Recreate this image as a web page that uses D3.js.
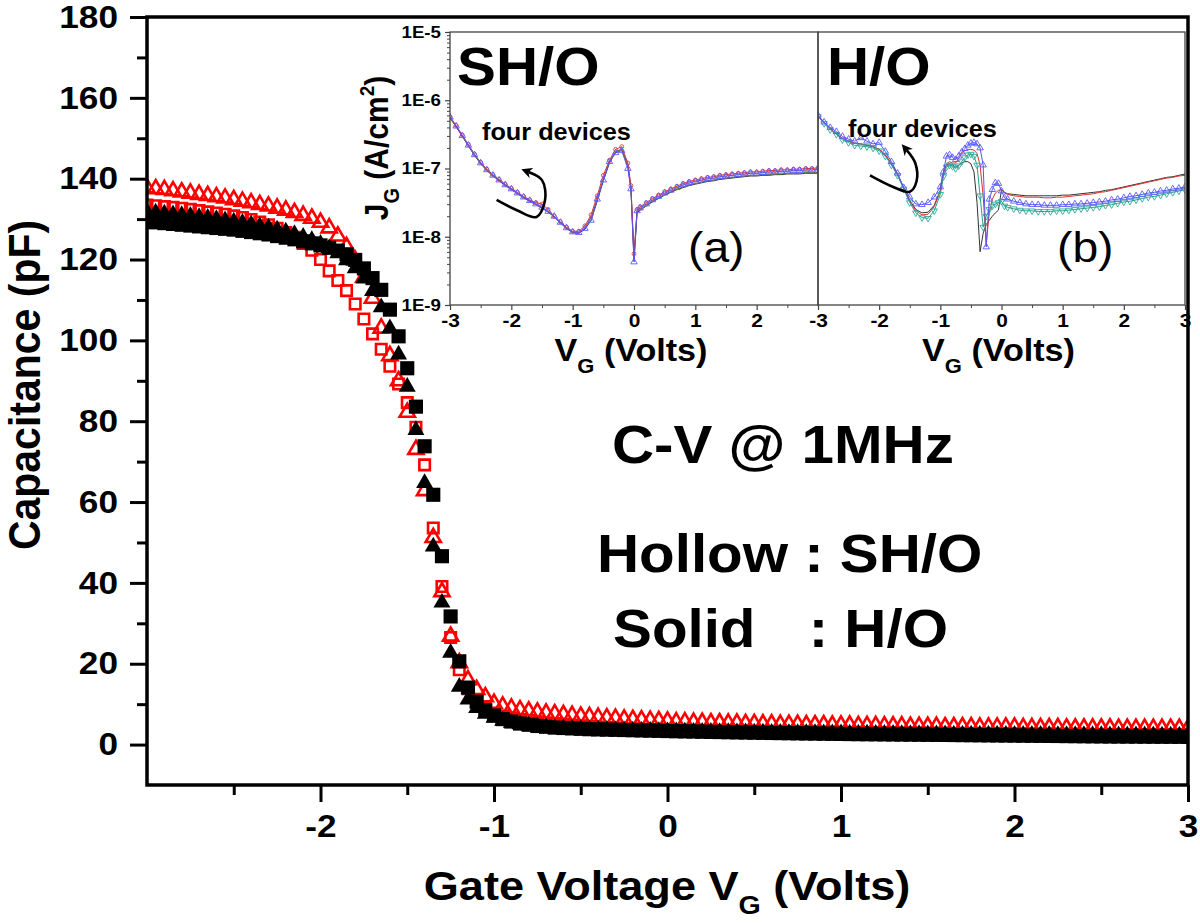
<!DOCTYPE html>
<html><head><meta charset="utf-8">
<script src="https://cdn.jsdelivr.net/npm/d3@7"></script>
<style>body{margin:0;background:#fff}svg{display:block}</style>
</head><body><svg id="c" width="1200" height="923"></svg>
<script>
// ---------------- DATA ----------------
const voltage = [-3.00,-2.95,-2.90,-2.85,-2.80,-2.75,-2.70,-2.65,-2.60,-2.55,
 -2.50,-2.45,-2.40,-2.35,-2.30,-2.25,-2.20,-2.15,-2.10,-2.05,
 -2.00,-1.95,-1.90,-1.85,-1.80,-1.75,-1.70,-1.65,-1.60,-1.55,
 -1.50,-1.45,-1.40,-1.35,-1.30,-1.25,-1.20,-1.15,-1.10,-1.05,
 -1.00,-0.95,-0.90,-0.85,-0.80,-0.75,-0.70,-0.65,-0.60,-0.55,
 -0.50,-0.45,-0.40,-0.35,-0.30,-0.25,-0.20,-0.15,-0.10,-0.05,
 0.00,0.05,0.10,0.15,0.20,0.25,0.30,0.35,0.40,0.45,
 0.50,0.55,0.60,0.65,0.70,0.75,0.80,0.85,0.90,0.95,
 1.00,1.05,1.10,1.15,1.20,1.25,1.30,1.35,1.40,1.45,
 1.50,1.55,1.60,1.65,1.70,1.75,1.80,1.85,1.90,1.95,
 2.00,2.05,2.10,2.15,2.20,2.25,2.30,2.35,2.40,2.45,
 2.50,2.55,2.60,2.65,2.70,2.75,2.80,2.85,2.90,2.95,
 3.00];

// SH/O (hollow, red) square markers, pF
const shoSquares = [133.5,133.3,133.1,132.9,132.7,132.4,132.1,131.8,131.5,131.2,
 130.8,130.4,129.9,129.3,128.6,127.7,126.7,125.5,124.0,122.3,
 120.0,117.2,114.8,112.3,109.0,105.3,101.6,97.8,93.6,89.2,
 84.6,78.5,69.2,53.6,39.1,26.5,18.5,13.8,10.8,8.9,
 7.6,6.7,6.1,5.6,5.3,5.0,4.8,4.6,4.5,4.4,
 4.3,4.2,4.1,4.0,3.95,3.9,3.85,3.8,3.75,3.7,
 3.65,3.6,3.56,3.52,3.48,3.44,3.4,3.37,3.34,3.31,
 3.28,3.25,3.22,3.19,3.16,3.13,3.1,3.08,3.06,3.04,
 3.02,3.0,2.98,2.96,2.94,2.92,2.9,2.88,2.86,2.84,
 2.82,2.8,2.78,2.76,2.74,2.72,2.7,2.68,2.66,2.64,
 2.62,2.6,2.58,2.57,2.56,2.55,2.54,2.53,2.52,2.51,
 2.5,2.49,2.48,2.47,2.46,2.45,2.44,2.43,2.42,2.41,
 2.4];

// SH/O (hollow, red) triangle markers, pF
const shoTriangles = [137.7,137.5,137.3,137.0,136.7,136.4,136.1,135.8,135.5,135.2,
 134.8,134.4,134.0,133.6,133.2,132.7,132.2,131.6,130.9,130.2,
 129.2,127.8,125.8,123.2,119.8,115.6,110.4,103.0,96.2,90.0,
 82.2,73.0,62.8,51.2,37.8,26.8,20.2,16.0,13.6,11.8,
 10.2,9.5,9.0,8.6,8.3,8.0,7.8,7.6,7.4,7.2,
 7.0,6.9,6.7,6.6,6.5,6.3,6.2,6.1,6.0,5.9,
 5.8,5.6,5.6,5.5,5.5,5.4,5.4,5.3,5.3,5.2,
 5.2,5.1,5.1,5.0,5.0,5.0,4.9,4.9,4.9,4.8,
 4.8,4.8,4.7,4.7,4.7,4.6,4.6,4.6,4.5,4.5,
 4.5,4.5,4.4,4.4,4.4,4.4,4.3,4.3,4.3,4.3,
 4.3,4.2,4.2,4.2,4.2,4.2,4.1,4.1,4.1,4.1,
 4.1,4.1,4.0,4.0,4.0,4.0,4.0,4.0,4.0,4.0,
 4.0];

// H/O (solid, black) triangle markers, pF
const hoTriangles = [131.8,131.6,131.4,131.2,131.0,130.8,130.5,130.3,130.0,129.7,
 129.4,129.1,128.7,128.3,127.9,127.4,126.9,126.3,125.6,124.8,
 123.9,122.8,121.5,119.8,117.8,115.3,112.2,108.2,103.0,96.5,
 88.5,77.8,64.7,49.0,35.1,22.7,14.3,11.1,9.0,7.6,
 6.6,5.9,5.4,5.0,4.7,4.5,4.3,4.1,4.0,3.9,
 3.8,3.7,3.65,3.6,3.55,3.5,3.46,3.42,3.38,3.34,
 3.3,3.26,3.22,3.19,3.16,3.13,3.1,3.07,3.04,3.01,
 2.98,2.95,2.92,2.9,2.88,2.86,2.84,2.82,2.8,2.78,
 2.76,2.74,2.72,2.7,2.68,2.66,2.64,2.62,2.6,2.58,
 2.56,2.54,2.52,2.5,2.49,2.48,2.47,2.46,2.45,2.44,
 2.43,2.42,2.41,2.4,2.39,2.38,2.37,2.36,2.35,2.34,
 2.33,2.32,2.31,2.3,2.29,2.28,2.27,2.26,2.25,2.24,
 2.23];

// H/O (solid, black) square markers, pF
const hoSquares = [129.4,129.2,129.0,128.8,128.6,128.4,128.2,128.0,127.8,127.6,
 127.4,127.1,126.8,126.5,126.2,125.8,125.4,125.0,124.5,124.0,
 123.5,122.9,122.2,121.3,119.9,117.8,115.4,112.5,107.6,101.0,
 93.1,83.6,73.8,61.8,46.6,31.7,20.6,14.1,10.6,8.5,
 7.2,6.3,5.7,5.2,4.9,4.6,4.4,4.2,4.1,4.0,
 3.9,3.8,3.75,3.7,3.65,3.6,3.55,3.5,3.45,3.4,
 3.35,3.3,3.26,3.22,3.18,3.14,3.1,3.06,3.02,2.98,
 2.94,2.9,2.87,2.84,2.81,2.78,2.75,2.72,2.69,2.66,
 2.63,2.6,2.58,2.56,2.54,2.52,2.5,2.48,2.46,2.44,
 2.42,2.4,2.38,2.36,2.34,2.32,2.3,2.28,2.26,2.24,
 2.22,2.2,2.18,2.16,2.14,2.12,2.1,2.08,2.06,2.04,
 2.02,2.0,1.99,1.98,1.97,1.96,1.95,1.94,1.93,1.92,
 1.91];

const capTicks = [0,20,40,60,80,100,120,140,160,180];
const capMinorTicks = [10,30,50,70,90,110,130,150,170];
const voltTicks = [-2,-1,0,1,2,3];
const voltMinorTicks = [-2.5,-1.5,-0.5,0.5,1.5,2.5];

// Inset (a) SH/O: gate voltage and log10(J_G [A/cm2]) for four devices
const insetVoltA = [-3.0,-2.9,-2.8,-2.7,-2.6,-2.5,-2.4,-2.3,-2.2,-2.1,
 -2.0,-1.9,-1.8,-1.7,-1.6,-1.5,-1.4,-1.3,-1.2,-1.1,
 -1.0,-0.9,-0.8,-0.7,-0.6,-0.5,-0.4,-0.3,-0.2,-0.1,
 -0.05,0.0,0.05,
 0.1,0.2,0.3,0.4,0.5,0.6,0.7,0.8,0.9,1.0,
 1.1,1.2,1.3,1.4,1.5,1.6,1.7,1.8,1.9,2.0,
 2.1,2.2,2.3,2.4,2.5,2.6,2.7,2.8,2.9,3.0];
const shoDevBlue = [-6.25,-6.38,-6.52,-6.66,-6.80,-6.92,-7.02,-7.10,-7.17,-7.24,
 -7.30,-7.36,-7.42,-7.47,-7.52,-7.57,-7.63,-7.70,-7.79,-7.87,
 -7.93,-7.94,-7.88,-7.76,-7.45,-7.17,-6.90,-6.77,-6.74,-7.00,
 -7.30,-8.37,-7.62,
 -7.58,-7.52,-7.46,-7.41,-7.36,-7.32,-7.28,-7.24,-7.21,-7.19,
 -7.17,-7.15,-7.14,-7.12,-7.11,-7.10,-7.09,-7.08,-7.07,-7.07,
 -7.06,-7.05,-7.05,-7.04,-7.04,-7.03,-7.03,-7.02,-7.02,-7.01];
const shoDevRed = [-6.24,-6.37,-6.51,-6.65,-6.79,-6.91,-7.01,-7.09,-7.16,-7.23,
 -7.29,-7.35,-7.41,-7.46,-7.50,-7.52,-7.60,-7.70,-7.78,-7.86,
 -7.92,-7.92,-7.84,-7.68,-7.40,-7.10,-6.88,-6.72,-6.68,-6.92,
 -7.25,-8.25,-7.60,
 -7.56,-7.50,-7.44,-7.39,-7.34,-7.30,-7.26,-7.22,-7.19,-7.17,
 -7.15,-7.13,-7.12,-7.10,-7.09,-7.08,-7.07,-7.06,-7.05,-7.05,
 -7.04,-7.03,-7.03,-7.02,-7.02,-7.01,-7.01,-7.00,-7.00,-6.99];
const shoDevBlack = [-6.26,-6.39,-6.53,-6.67,-6.81,-6.93,-7.03,-7.11,-7.18,-7.25,
 -7.31,-7.37,-7.43,-7.48,-7.53,-7.58,-7.64,-7.71,-7.80,-7.88,
 -7.94,-7.95,-7.89,-7.76,-7.48,-7.18,-6.92,-6.76,-6.72,-6.96,
 -7.30,-8.35,-7.65,
 -7.61,-7.55,-7.49,-7.44,-7.39,-7.35,-7.31,-7.28,-7.25,-7.23,
 -7.21,-7.19,-7.18,-7.16,-7.15,-7.14,-7.13,-7.12,-7.11,-7.11,
 -7.10,-7.10,-7.09,-7.09,-7.08,-7.08,-7.08,-7.07,-7.07,-7.07];
const shoDevGreen = [-6.25,-6.38,-6.52,-6.66,-6.80,-6.92,-7.02,-7.10,-7.17,-7.24,
 -7.30,-7.36,-7.42,-7.47,-7.52,-7.57,-7.63,-7.70,-7.79,-7.87,
 -7.93,-7.94,-7.87,-7.72,-7.45,-7.15,-6.90,-6.75,-6.72,-6.95,
 -7.28,-8.30,-7.63,
 -7.60,-7.54,-7.48,-7.43,-7.38,-7.34,-7.30,-7.27,-7.24,-7.22,
 -7.20,-7.18,-7.17,-7.15,-7.14,-7.13,-7.12,-7.11,-7.10,-7.10,
 -7.09,-7.09,-7.08,-7.08,-7.07,-7.07,-7.07,-7.06,-7.06,-7.06];

// Inset (b) H/O
const insetVoltB = [-3.0,-2.9,-2.8,-2.7,-2.6,-2.5,-2.4,-2.3,-2.2,-2.1,
 -2.0,-1.9,-1.8,-1.7,-1.6,-1.5,-1.4,-1.3,-1.2,-1.1,-1.0,
 -0.95,-0.90,-0.85,-0.80,-0.75,-0.70,-0.65,-0.60,-0.55,-0.50,
 -0.45,-0.40,-0.35,-0.30,-0.25,-0.20,-0.15,-0.10,-0.05,0.00,0.05,
 0.1,0.2,0.3,0.4,0.5,0.6,0.7,0.8,0.9,1.0,
 1.1,1.2,1.3,1.4,1.5,1.6,1.7,1.8,1.9,2.0,
 2.1,2.2,2.3,2.4,2.5,2.6,2.7,2.8,2.9,3.0];
const hoDevBlue = [-6.22,-6.32,-6.40,-6.46,-6.53,-6.57,-6.60,-6.55,-6.60,-6.64,
 -6.62,-6.75,-6.90,-7.07,-7.28,-7.42,-7.52,-7.53,-7.50,-7.42,-7.27,
 -7.05,-6.82,-6.80,-6.84,-6.87,-6.82,-6.76,-6.71,-6.66,-6.63,
 -6.62,-6.64,-6.70,-6.95,-8.15,-7.45,-7.31,-7.21,-7.22,-7.33,-7.43,
 -7.45,-7.48,-7.50,-7.52,-7.53,-7.53,-7.54,-7.54,-7.54,-7.53,
 -7.53,-7.52,-7.52,-7.51,-7.50,-7.49,-7.48,-7.46,-7.45,-7.43,
 -7.41,-7.40,-7.38,-7.36,-7.35,-7.33,-7.32,-7.30,-7.29,-7.27];
const hoDevTeal = [-6.24,-6.34,-6.43,-6.50,-6.58,-6.62,-6.66,-6.67,-6.68,-6.70,
 -6.74,-6.82,-6.95,-7.10,-7.30,-7.50,-7.65,-7.72,-7.73,-7.62,-7.38,
 -7.12,-6.98,-6.95,-6.97,-7.00,-6.96,-6.90,-6.84,-6.80,-6.79,
 -6.82,-6.95,-7.40,-7.86,-7.70,-7.60,-7.55,-7.52,-7.50,-7.48,-7.55,
 -7.57,-7.59,-7.61,-7.62,-7.62,-7.63,-7.63,-7.63,-7.62,-7.62,
 -7.61,-7.60,-7.59,-7.58,-7.57,-7.56,-7.54,-7.53,-7.51,-7.49,
 -7.48,-7.46,-7.44,-7.42,-7.41,-7.39,-7.37,-7.35,-7.33,-7.31];
const hoDevRed = [-6.23,-6.33,-6.42,-6.49,-6.56,-6.60,-6.63,-6.64,-6.66,-6.68,
 -6.72,-6.80,-6.93,-7.09,-7.28,-7.48,-7.62,-7.68,-7.67,-7.56,-7.33,
 -7.08,-6.93,-6.90,-6.92,-6.92,-6.85,-6.78,-6.74,-6.72,-6.72,
 -6.73,-6.78,-6.95,-7.40,-8.10,-7.65,-7.45,-7.36,-7.32,-7.31,-7.36,
 -7.38,-7.40,-7.41,-7.42,-7.42,-7.42,-7.43,-7.43,-7.42,-7.42,
 -7.41,-7.40,-7.39,-7.38,-7.37,-7.35,-7.34,-7.32,-7.30,-7.28,
 -7.26,-7.24,-7.22,-7.20,-7.18,-7.16,-7.14,-7.13,-7.11,-7.10];
const hoDevBlack = [-6.23,-6.33,-6.42,-6.49,-6.56,-6.60,-6.63,-6.64,-6.66,-6.68,
 -6.72,-6.80,-6.93,-7.09,-7.28,-7.47,-7.60,-7.65,-7.64,-7.54,-7.32,
 -7.06,-6.95,-6.93,-6.95,-6.98,-6.95,-6.92,-6.90,-6.90,-6.93,
 -7.05,-7.50,-8.22,-7.95,-7.82,-7.76,-7.70,-7.65,-7.61,-7.31,-7.35,
 -7.37,-7.38,-7.39,-7.40,-7.40,-7.40,-7.40,-7.40,-7.40,-7.39,
 -7.39,-7.38,-7.37,-7.36,-7.35,-7.34,-7.32,-7.31,-7.29,-7.27,
 -7.25,-7.23,-7.21,-7.19,-7.17,-7.15,-7.13,-7.12,-7.10,-7.08];

const insetJTicks = [1e-9,1e-8,1e-7,1e-6,1e-5];
const insetVTicksA = [-3,-2,-1,0,1,2];
const insetVTicksB = [-3,-2,-1,0,1,2,3];
const insetVMinor = [-2.5,-1.5,-0.5,0.5,1.5,2.5];
// curved "four devices" arrows, in inset data units [V, log10 J]
const arrowA = [[-2.24,-7.46],[-1.89,-7.62],[-1.59,-7.71],[-1.45,-7.46],[-1.50,-7.17],[-1.72,-7.05]];
const arrowB = [[-2.15,-7.10],[-1.77,-7.27],[-1.50,-7.34],[-1.39,-7.19],[-1.41,-6.92],[-1.55,-6.73]];

// ---------------- DRAW ----------------
const FONT = "'Liberation Sans', Arial, Helvetica, sans-serif";
const SX = 1.1;
const svg = d3.select("#c");
svg.append("rect").attr("width",1200).attr("height",923).attr("fill","#fff");

const x = d3.scaleLinear().domain([-3,3]).range([147,1188]);
const y = d3.scaleLinear().domain([-10,180]).range([785,17]);
const plainNum = d => String(d);

function stretchText(sel){
  sel.each(function(){
    const t = d3.select(this);
    const tx = +t.attr("x") || 0, ty = +t.attr("y") || 0;
    t.attr("x", null).attr("y", null).attr("transform", `translate(${tx},${ty}) scale(${SX},1)`);
  });
}
function styleAxis(g, size, width, color){
  g.select(".domain").remove();
  g.selectAll("line").attr("stroke", color||"#000").attr("stroke-width", width);
  g.selectAll("text").attr("font-size", size).attr("font-weight","bold").attr("font-family",FONT).attr("fill","#000");
  g.attr("font-family", FONT);
  stretchText(g.selectAll("text"));
}
function label(parent, px, py, size, opts){
  opts = opts || {};
  const g = parent.append("g").attr("transform", `translate(${px},${py}) scale(${SX},1)` + (opts.rotate ? " rotate(-90)" : ""));
  return g.append("text").attr("font-size", size).attr("font-weight", opts.weight || "bold")
    .attr("text-anchor", opts.anchor || "start").attr("font-family", FONT).attr("fill", "#000");
}

const defs = svg.append("defs");
defs.append("clipPath").attr("id","mainClip").append("rect")
  .attr("x",x.range()[0]).attr("y",y.range()[1]).attr("width",x.range()[1]-x.range()[0]).attr("height",y.range()[0]-y.range()[1]);

// main axes ticks
const gy = svg.append("g").attr("transform",`translate(${x.range()[0]},0)`)
  .call(d3.axisLeft(y).tickValues(capTicks).tickSize(17).tickSizeOuter(0).tickPadding(12).tickFormat(plainNum));
styleAxis(gy, 32, 3);
const gy2 = svg.append("g").attr("transform",`translate(${x.range()[0]},0)`)
  .call(d3.axisLeft(y).tickValues(capMinorTicks).tickSize(10).tickSizeOuter(0).tickFormat(""));
styleAxis(gy2, 32, 3);
const gx = svg.append("g").attr("transform",`translate(0,${y.range()[0]})`)
  .call(d3.axisBottom(x).tickValues(voltTicks).tickSize(17).tickSizeOuter(0).tickPadding(12).tickFormat(plainNum));
styleAxis(gx, 32, 3);
const gx2 = svg.append("g").attr("transform",`translate(0,${y.range()[0]})`)
  .call(d3.axisBottom(x).tickValues(voltMinorTicks).tickSize(10).tickSizeOuter(0).tickFormat(""));
styleAxis(gx2, 32, 3);

// main data
const plot = svg.append("g").attr("clip-path","url(#mainClip)");
const mainSeries = [
  {vals: shoSquares, type: d3.symbolSquare, size: 110, fill: "none", stroke: "#ff0000", sw: 2.6},
  {vals: shoTriangles, type: d3.symbolTriangle, size: 100, fill: "none", stroke: "#ff0000", sw: 2.6},
  {vals: hoTriangles, type: d3.symbolTriangle, size: 125, fill: "#000", stroke: "none", sw: 0},
  {vals: hoSquares, type: d3.symbolSquare, size: 200, fill: "#000", stroke: "none", sw: 0}
];
mainSeries.forEach(s => {
  const pts = voltage.map((v,i) => [v, s.vals[i]]).filter(d => d[1] !== undefined);
  plot.append("g").selectAll("path").data(pts).join("path")
    .attr("transform", d => `translate(${x(d[0])},${y(d[1])})`)
    .attr("d", d3.symbol(s.type, s.size))
    .attr("fill", s.fill).attr("stroke", s.stroke).attr("stroke-width", s.sw);
});

// ---------------- INSETS ----------------
const yj = d3.scaleLog().domain([1e-9,1e-5]).range([305,32]);
const xa = d3.scaleLinear().domain([-3,3]).range([450,818]);
const xb = d3.scaleLinear().domain([-3,3]).range([818,1185]);

[["clipA",xa],["clipB",xb]].forEach(([id,sc]) => {
  defs.append("clipPath").attr("id",id).append("rect")
    .attr("x",sc.range()[0]).attr("y",yj.range()[1]).attr("width",sc.range()[1]-sc.range()[0]).attr("height",yj.range()[0]-yj.range()[1]);
});
svg.append("rect").attr("x",xa.range()[0]).attr("y",yj.range()[1]).attr("width",xb.range()[1]-xa.range()[0]).attr("height",yj.range()[0]-yj.range()[1]).attr("fill","#fff");

defs.append("marker").attr("id","arrowHead").attr("viewBox","0 0 10 10").attr("refX",3).attr("refY",5)
  .attr("markerWidth",4.2).attr("markerHeight",4.2).attr("orient","auto")
  .append("path").attr("d","M0,0 L10,5 L0,10 L3,5 Z").attr("fill","#000");

function drawInset(sc, clipId, volts, devices, arrow){
  const g = svg.append("g").attr("clip-path",`url(#${clipId})`);
  const line = d3.line().x(d => sc(d[0])).y(d => yj(Math.pow(10,d[1])));
  devices.forEach(dv => {
    const pts = volts.map((v,i) => [v, dv.vals[i]]).filter(d => d[1] !== undefined);
    g.append("path").datum(pts).attr("d", line).attr("fill","none").attr("stroke", dv.line).attr("stroke-width", 1);
    if (dv.marker) {
      g.append("g").selectAll("path").data(pts).join("path")
        .attr("transform", d => `translate(${sc(d[0])},${yj(Math.pow(10,d[1]))})${dv.flip ? " rotate(180)" : ""}`)
        .attr("d", d3.symbol(dv.marker, dv.msize))
        .attr("fill","none").attr("stroke", dv.mcolor).attr("stroke-width", 0.9);
    }
  });
  const aline = d3.line().curve(d3.curveCatmullRom).x(d => sc(d[0])).y(d => yj(Math.pow(10,d[1])));
  svg.append("path").datum(arrow).attr("d", aline).attr("fill","none").attr("stroke","#000")
    .attr("stroke-width",2.6).attr("marker-end","url(#arrowHead)");
}
drawInset(xa, "clipA", insetVoltA, [
  {vals: shoDevBlack, line: "#333"},
  {vals: shoDevGreen, line: "#5a7a2a"},
  {vals: shoDevRed, line: "#e03030", marker: d3.symbolCircle, msize: 12, mcolor: "#e04040"},
  {vals: shoDevBlue, line: "#5555ee", marker: d3.symbolTriangle, msize: 18, mcolor: "#5a5aff"}
], arrowA);
drawInset(xb, "clipB", insetVoltB, [
  {vals: hoDevBlack, line: "#333"},
  {vals: hoDevRed, line: "#e03030"},
  {vals: hoDevTeal, line: "#2aa090", marker: d3.symbolTriangle, msize: 18, mcolor: "#30a898", flip: true},
  {vals: hoDevBlue, line: "#5555ee", marker: d3.symbolTriangle, msize: 18, mcolor: "#5a5aff"}
], arrowB);

// inset frames
[xa, xb].forEach(sc => {
  svg.append("rect").attr("x",sc.range()[0]).attr("y",yj.range()[1]).attr("width",sc.range()[1]-sc.range()[0]).attr("height",yj.range()[0]-yj.range()[1])
    .attr("fill","none").attr("stroke","#444").attr("stroke-width",1.3);
});

// inset axes
const minorJ = [];
[-9,-8,-7,-6].forEach(e => [2,3,4,5,6,7,8,9].forEach(m => minorJ.push(m*Math.pow(10,e))));
const gja = svg.append("g").attr("transform",`translate(${xa.range()[0]},0)`)
  .call(d3.axisLeft(yj).tickValues(insetJTicks).tickSize(5).tickPadding(4).tickFormat(d => "1E" + Math.round(Math.log10(d))));
styleAxis(gja, 17, 1.2, "#444");
const gja2 = svg.append("g").attr("transform",`translate(${xa.range()[0]},0)`)
  .call(d3.axisLeft(yj).tickValues(minorJ).tickSize(3).tickFormat(""));
styleAxis(gja2, 17, 1, "#444");
[[xa, insetVTicksA],[xb, insetVTicksB]].forEach(([sc, tv]) => {
  const g1 = svg.append("g").attr("transform",`translate(0,${yj.range()[0]})`)
    .call(d3.axisBottom(sc).tickValues(tv).tickSize(5).tickPadding(4).tickFormat(plainNum));
  styleAxis(g1, 19, 1.2, "#444");
  const g2 = svg.append("g").attr("transform",`translate(0,${yj.range()[0]})`)
    .call(d3.axisBottom(sc).tickValues(insetVMinor).tickSize(3).tickFormat(""));
  styleAxis(g2, 19, 1, "#444");
  const t = label(svg, (sc.range()[0]+sc.range()[1])/2 - 3, 361, 31, {anchor: "middle"});
  t.append("tspan").text("V");
  t.append("tspan").attr("font-size",20).attr("dy",12).text("G");
  t.append("tspan").attr("dy",-12).text(" (Volts)");
});

// inset y title
{
  const t = label(svg, 388, 148, 30, {anchor: "middle", rotate: true});
  t.append("tspan").text("J");
  t.append("tspan").attr("font-size",20).attr("dy",10).text("G");
  t.append("tspan").attr("dy",-10).text(" (A/cm");
  t.append("tspan").attr("font-size",19).attr("dy",-13).text("2");
  t.append("tspan").attr("dy",13).text(")");
}
label(svg, 457, 85, 53).text("SH/O");
label(svg, 827, 85, 53).text("H/O");
label(svg, 482, 140, 23).text("four devices");
label(svg, 848, 137, 23).text("four devices");
label(svg, 688, 262, 42, {weight: "normal"}).text("(a)");
label(svg, 1057, 262, 42, {weight: "normal"}).text("(b)");

// main annotations
label(svg, 612, 463, 53).text("C-V @ 1MHz");
label(svg, 597, 572, 53).text("Hollow : SH/O");
label(svg, 613, 647, 53).text("Solid");
label(svg, 948, 647, 53, {anchor: "end"}).text(": H/O");

// main titles
label(svg, 40, 385, 41, {anchor: "middle", rotate: true}).text("Capacitance (pF)");
{
  const t = label(svg, 667, 900, 41, {anchor: "middle"});
  t.append("tspan").text("Gate Voltage V");
  t.append("tspan").attr("font-size",26).attr("dy",14).text("G");
  t.append("tspan").attr("dy",-14).text(" (Volts)");
}

// main frame
svg.append("rect").attr("x",x.range()[0]).attr("y",y.range()[1]).attr("width",x.range()[1]-x.range()[0]).attr("height",y.range()[0]-y.range()[1])
  .attr("fill","none").attr("stroke","#000").attr("stroke-width",3.5);
</script></body></html>
